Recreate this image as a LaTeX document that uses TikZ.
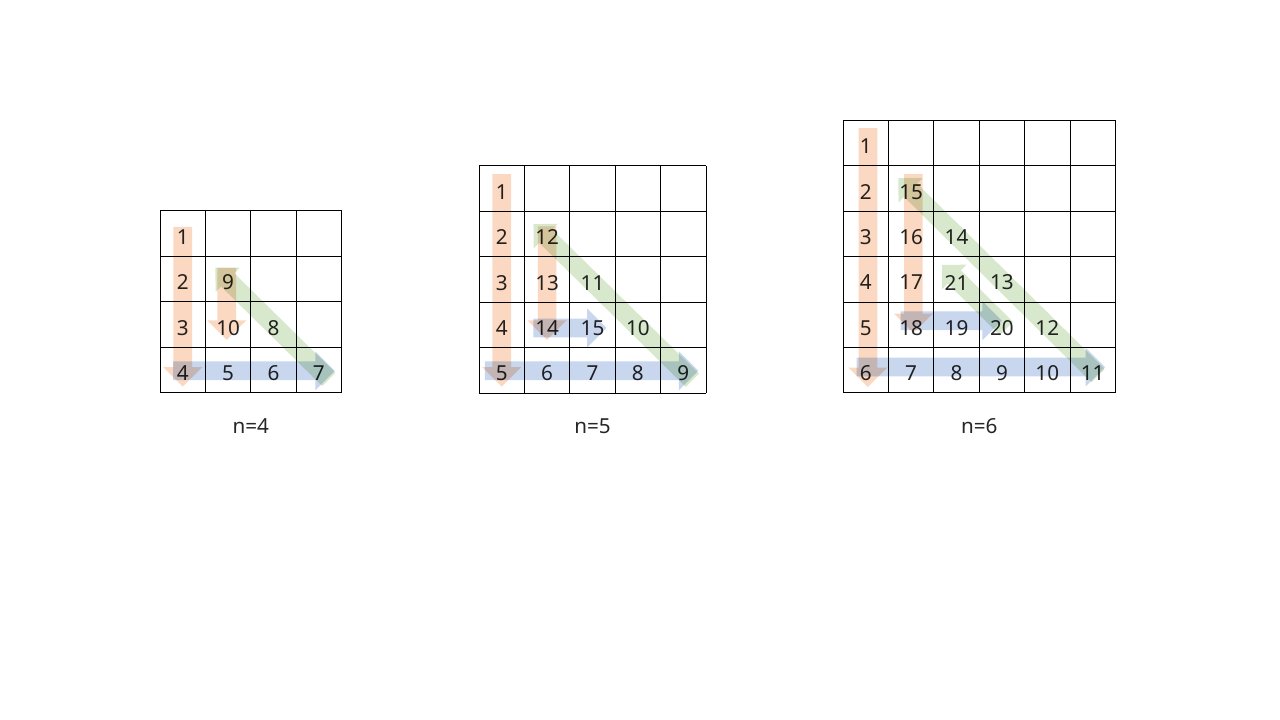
\documentclass[tikz,border=0pt]{standalone}
\usepackage{fontspec}
\setmainfont{Noto Sans}
\usepackage{tikz}
\usetikzlibrary{calc}

\definecolor{arrorange}{RGB}{250,216,194}
\definecolor{arrblue}{RGB}{200,214,238}
\definecolor{arrgreen}{RGB}{215,232,204}

\tikzstyle{grid line}=[line width=0.75pt, black]
\tikzstyle{num}=[inner sep=0pt, text=black!85, font=\fontsize{15.5}{18}\selectfont]
\tikzstyle{arrdown}=[fill=arrorange]
\tikzstyle{arrright}=[fill=arrblue]
\tikzstyle{arrdiag}=[fill=arrgreen]

% ブロック矢印: #1 スタイル, #2 始点, #3 先端, #4 頭の半幅, #5 頭の長さ
\newcommand{\blockarrow}[5]{%
  \coordinate (ar-s) at #2;
  \coordinate (ar-t) at #3;
  \coordinate (ar-h) at ($(ar-t)!#5!(ar-s)$);
  \fill[#1] ($(ar-s)!7pt!90:(ar-t)$) -- ($(ar-h)!7pt!90:(ar-t)$)
    -- ($(ar-h)!#4!90:(ar-t)$) -- (ar-t) -- ($(ar-h)!#4!-90:(ar-t)$)
    -- ($(ar-h)!7pt!-90:(ar-t)$) -- ($(ar-s)!7pt!-90:(ar-t)$) -- cycle;
}

\begin{document}
\begin{tikzpicture}[x=0.75pt, y=-0.75pt]
  \useasboundingbox (0,0) rectangle (1280,720);

  % n=4
  \begin{scope}[shift={(160,211)}, x=34.05pt, y=-34.05pt]
    % 格子
    \foreach \i in {0,...,4} {
      \draw[grid line] (\i,0) -- (\i,4);
      \draw[grid line] (0,\i) -- (4,\i);
    }
    % 数字
    \foreach \r/\c/\v in {1/1/1, 2/1/2, 3/1/3, 4/1/4, 4/2/5, 4/3/6, 4/4/7,
                          3/3/8, 2/2/9, 3/2/10}
      \node[num] (p4-\v) at (\c-0.5,\r-0.43) {\v};
    \node[num] (lab4) at (2,4.74) {n=4};
    % 矢印
    \begin{scope}[blend mode=multiply]
      \blockarrow{arrdown}{(0.5,0.35)}{(0.5,3.87)}{14.6pt}{14.6pt}
      \blockarrow{arrdown}{(1.47,1.25)}{(1.47,2.84)}{14.6pt}{14.6pt}
      \blockarrow{arrright}{(0.29,3.52)}{(3.85,3.52)}{14.6pt}{14.6pt}
      \blockarrow{arrdiag}{(3.72,3.71)}{(1.22,1.25)}{12.9pt}{12.9pt}
    \end{scope}
  \end{scope}

  % n=5
  \begin{scope}[shift={(479,166)}, x=34.05pt, y=-34.05pt]
    % 格子
    \foreach \i in {0,...,5} {
      \draw[grid line] (\i,0) -- (\i,5);
      \draw[grid line] (0,\i) -- (5,\i);
    }
    % 数字
    \foreach \r/\c/\v in {1/1/1, 2/1/2, 3/1/3, 4/1/4, 5/1/5, 5/2/6, 5/3/7,
                          5/4/8, 5/5/9, 4/4/10, 3/3/11, 2/2/12, 3/2/13,
                          4/2/14, 4/3/15}
      \node[num] (p5-\v) at (\c-0.5,\r-0.43) {\v};
    \node[num] (lab5) at (2.5,5.74) {n=5};
    % 矢印
    \begin{scope}[blend mode=multiply]
      \blockarrow{arrdown}{(0.5,0.18)}{(0.5,4.86)}{14.6pt}{14.6pt}
      \blockarrow{arrdown}{(1.5,1.33)}{(1.5,3.83)}{14.6pt}{14.6pt}
      \blockarrow{arrright}{(0.13,4.51)}{(4.83,4.51)}{14.6pt}{14.6pt}
      \blockarrow{arrright}{(1.2,3.57)}{(2.81,3.57)}{14.6pt}{14.6pt}
      \blockarrow{arrdiag}{(4.7,4.72)}{(1.2,1.28)}{12.9pt}{12.9pt}
    \end{scope}
  \end{scope}

  % n=6
  \begin{scope}[shift={(843,120.5)}, x=34.05pt, y=-34.05pt]
    % 格子
    \foreach \i in {0,...,6} {
      \draw[grid line] (\i,0) -- (\i,6);
      \draw[grid line] (0,\i) -- (6,\i);
    }
    % 数字
    \foreach \r/\c/\v in {1/1/1, 2/1/2, 3/1/3, 4/1/4, 5/1/5, 6/1/6, 6/2/7,
                          6/3/8, 6/4/9, 6/5/10, 6/6/11, 5/5/12, 4/4/13,
                          3/3/14, 2/2/15, 3/2/16, 4/2/17, 5/2/18, 5/3/19,
                          5/4/20, 4/3/21}
      \node[num] (p6-\v) at (\c-0.5,\r-0.43) {\v};
    \node[num] (lab6) at (3,6.74) {n=6};
    % 矢印
    \begin{scope}[blend mode=multiply]
      \blockarrow{arrdown}{(0.55,0.17)}{(0.55,5.87)}{14.6pt}{14.6pt}
      \blockarrow{arrdown}{(1.55,1.18)}{(1.55,4.68)}{14.6pt}{14.6pt}
      \blockarrow{arrright}{(0.3,5.43)}{(5.77,5.43)}{14.6pt}{14.6pt}
      \blockarrow{arrright}{(1.27,4.41)}{(3.5,4.41)}{14.6pt}{14.6pt}
      \blockarrow{arrdiag}{(5.62,5.62)}{(1.22,1.27)}{12.9pt}{12.9pt}
      \blockarrow{arrdiag}{(3.6,4.58)}{(2.18,3.18)}{12.9pt}{12.9pt}
    \end{scope}
  \end{scope}
\end{tikzpicture}
\end{document}
